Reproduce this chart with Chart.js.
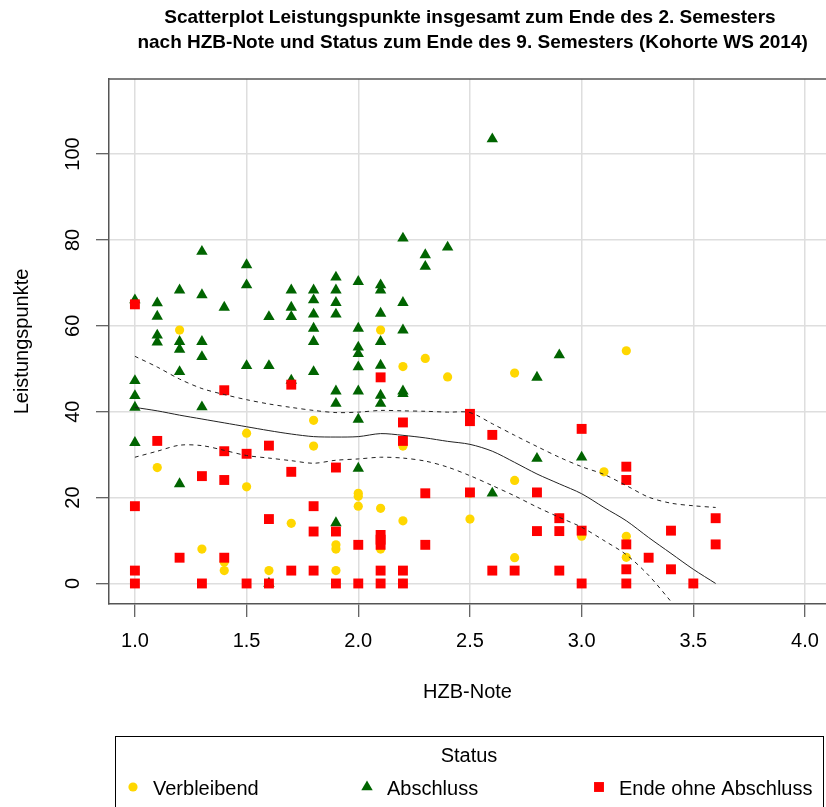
<!DOCTYPE html>
<html>
<head>
<meta charset="utf-8">
<script src="https://cdn.jsdelivr.net/npm/chart.js@4"></script>
<style>
  body { margin: 0; background: #fff; }
  #plot { display: block; }
</style>
</head>
<body>
<canvas id="plot" width="826" height="807"></canvas>
<script>
// Titel und Achsen
const titel = [
    'Scatterplot Leistungspunkte insgesamt zum Ende des 2. Semesters',
    ' nach HZB-Note und Status zum Ende des 9. Semesters (Kohorte WS 2014)'
];
const xTitel = 'HZB-Note';
const yTitel = 'Leistungspunkte';
const legendeTitel = 'Status';
const kategorien = ['Verbleibend', 'Abschluss', 'Ende ohne Abschluss'];

// Verbleibend (gelbe Punkte)
const verbleibendX = [1.1, 1.2, 1.3, 1.4, 1.4, 1.5, 1.5, 1.6, 1.7, 1.8, 1.8, 1.9, 1.9, 1.9, 2.0, 2.0, 2.0, 2.1, 2.1, 2.1,
    2.2, 2.2, 2.2, 2.2, 2.3, 2.4, 2.5, 2.5, 2.7, 2.7, 2.7, 2.9, 3.0, 3.1, 3.2, 3.2, 3.2];
const verbleibendY = [27, 59, 8, 5, 3, 35, 22.5, 3, 14, 38, 32, 9, 8, 3, 21, 20.3, 18, 59, 17.5, 8,
    50.5, 32, 14.6, 0, 52.4, 48.1, 21, 15, 49, 24, 6, 15.2, 11, 26, 54.2, 11, 6.1];

// Abschluss (gruene Dreiecke)
const abschlussX = [
    1.0, 1.0, 1.0, 1.0, 1.0,
    1.1, 1.1, 1.1, 1.1,
    1.2, 1.2, 1.2, 1.2, 1.2,
    1.3, 1.3, 1.3, 1.3, 1.3,
    1.4,
    1.5, 1.5, 1.5,
    1.6, 1.6, 1.6,
    1.7, 1.7, 1.7, 1.7,
    1.8, 1.8, 1.8, 1.8, 1.8, 1.8,
    1.9, 1.9, 1.9, 1.9, 1.9, 1.9, 1.9,
    2.0, 2.0, 2.0, 2.0, 2.0, 2.0, 2.0, 2.0,
    2.1, 2.1, 2.1, 2.1, 2.1, 2.1, 2.1,
    2.2, 2.2, 2.2, 2.2, 2.2,
    2.3, 2.3,
    2.4,
    2.6, 2.6,
    2.8, 2.8,
    2.9,
    3.0
];
const abschlussY = [
    66, 47.2, 43.7, 41, 32.8,
    65.3, 62.2, 57.8, 56.2,
    68.3, 56.3, 54.5, 49.3, 23.2,
    77.3, 67.2, 56.3, 52.8, 41.1,
    64.3,
    74.2, 69.5, 50.7,
    62.1, 50.7, 0,
    68.3, 64.3, 62.1, 47.3,
    68.3, 66, 62.7, 59.4, 56.3, 49.3,
    71.3, 68.3, 65.4, 62.7, 44.8, 41.9, 14.1,
    70.3, 59.4, 55, 53.5, 50.4, 44.8, 38.2, 26.8,
    69.5, 68.3, 62.9, 56.3, 50.8, 43.8, 41.9,
    80.4, 65.4, 59, 44.8, 44.2,
    76.5, 73.8,
    78.3,
    103.5, 21,
    48, 29.1,
    53.2,
    29.4
];

// Ende ohne Abschluss (rote Quadrate)
const endeX = [
    1.0, 1.0, 1.0, 1.0,
    1.1,
    1.2,
    1.3, 1.3,
    1.4, 1.4, 1.4, 1.4,
    1.5, 1.5,
    1.6, 1.6, 1.6,
    1.7, 1.7, 1.7,
    1.8, 1.8, 1.8,
    1.9, 1.9, 1.9,
    2.0, 2.0,
    2.1, 2.1, 2.1, 2.1, 2.1, 2.1,
    2.2, 2.2, 2.2, 2.2,
    2.3, 2.3,
    2.5, 2.5, 2.5,
    2.6, 2.6,
    2.7,
    2.8, 2.8,
    2.9, 2.9, 2.9,
    3.0, 3.0, 3.0,
    3.2, 3.2, 3.2, 3.2, 3.2,
    3.3,
    3.4, 3.4,
    3.5,
    3.6, 3.6
];
const endeY = [
    65, 18, 3, 0,
    33.2,
    6,
    25, 0,
    45, 30.8, 24.1, 6,
    30.2, 0,
    32.1, 15, 0,
    46.3, 26, 3,
    18, 12.1, 3,
    27, 12.1, 0,
    9, 0,
    48, 11.3, 10.2, 9, 3, 0,
    37.5, 33.2, 3, 0,
    21, 9,
    39.5, 37.8, 21.2,
    34.6, 3,
    3,
    21.2, 12.2,
    15.2, 12.2, 3,
    36, 12.3, 0,
    27.2, 24.1, 9.1, 3.3, 0,
    6,
    12.3, 3.3,
    0,
    15.2, 9.1
];

// Glaettung (Loess) mit Konfidenzband
const loessX = [1.0, 1.1, 1.2, 1.3, 1.4, 1.5, 1.6, 1.7, 1.8, 1.9, 2.0, 2.1, 2.2, 2.3, 2.4, 2.5, 2.6, 2.7, 2.8, 2.9,
    3.0, 3.1, 3.2, 3.3, 3.4, 3.5, 3.6];
const loessFit = [41, 40.2, 39.2, 38.3, 37.4, 36.5, 35.6, 34.8, 34.2, 34.1, 34.2, 34.9, 34.5, 33.9, 33.1, 32.4, 30.8, 28.2,
    25.5, 23.2, 20.9, 17.7, 14.6, 10.7, 7.0, 3.3, 0];
const loessOben = [52.9, 50.4, 47.6, 45.4, 44, 42.8, 41.8, 41, 40.3, 39.8, 39.9, 40.3, 40.2, 40.1, 39.9, 39.8, 37.2, 34.5,
    31.9, 29.4, 27.2, 25.4, 22.8, 20.1, 18.7, 18.1, 17.7];
const loessUnten = [29.4, 30.8, 32.2, 32.1, 31.0, 29.8, 29.2, 28.6, 28.0, 28.7, 29.0, 29.4, 29.2, 28.5, 27.1, 25.1, 22.8,
    20.4, 17.8, 15.4, 13.1, 10.0, 6.7, 1.9, -4.2, null, null];

const farben = ['#FFD700', '#006400', '#FF0000'];
const schrift = '"Liberation Sans", Arial, sans-serif';

const punkte = (xs, ys) => xs.map((x, i) => ({x: x, y: ys[i]}));

Chart.defaults.font.family = schrift;
Chart.defaults.color = '#000';

// Titel, obere Rahmenlinie und Legende selbst zeichnen
const rahmenPlugin = {
    id: 'rahmen',
    afterDraw(chart) {
        const {ctx, chartArea} = chart;
        const xs = chart.scales.x;
        ctx.save();
        ctx.strokeStyle = '#555';
        ctx.lineWidth = 1.5;
        ctx.beginPath();
        ctx.moveTo(chartArea.left, chartArea.top);
        ctx.lineTo(chartArea.right, chartArea.top);
        ctx.stroke();

        ctx.fillStyle = '#000';
        ctx.font = 'bold 19px ' + schrift;
        ctx.textAlign = 'center';
        ctx.textBaseline = 'middle';
        const mitte = xs.getPixelForValue(2.5);
        ctx.fillText(titel[0], mitte, 18);
        ctx.fillText(titel[1], mitte, 43);

        // Legende
        ctx.strokeStyle = '#000';
        ctx.lineWidth = 1;
        ctx.strokeRect(115.5, 736.5, 708, 100);
        ctx.font = '20px ' + schrift;
        ctx.fillText(legendeTitel, 469, 756);
        const markerX = [133, 367, 599];
        const ly = 789;
        ctx.textAlign = 'left';
        chart.data.datasets.slice(0, 3).forEach((ds, i) => {
            ctx.fillStyle = ds.backgroundColor;
            const mx = markerX[i];
            ctx.beginPath();
            if (ds.pointStyle === 'circle') {
                ctx.arc(mx, ly - 2, ds.pointRadius, 0, Math.PI * 2);
            } else if (ds.pointStyle === 'triangle') {
                const r = ds.pointRadius;
                ctx.moveTo(mx, ly - 2 - r);
                ctx.lineTo(mx + r * 0.866, ly - 2 + r / 2);
                ctx.lineTo(mx - r * 0.866, ly - 2 + r / 2);
                ctx.closePath();
            } else {
                const s = ds.pointRadius * Math.SQRT1_2;
                ctx.rect(mx - s, ly - 2 - s, 2 * s, 2 * s);
            }
            ctx.fill();
            ctx.fillStyle = '#000';
            ctx.fillText(kategorien[i], mx + 20, ly);
        });
        ctx.restore();
    }
};

const linie = (werte, gestrichelt) => ({
    type: 'line',
    data: punkte(loessX, werte),
    borderColor: '#222',
    borderWidth: 1,
    borderDash: gestrichelt ? [4, 4] : [],
    pointRadius: 0,
    tension: 0.3,
    fill: false,
    spanGaps: false,
    order: 0
});

const grafico = new Chart(document.getElementById('plot').getContext('2d'), {
    type: 'scatter',
    data: {
        datasets: [
            {
                label: kategorien[0],
                data: punkte(verbleibendX, verbleibendY),
                backgroundColor: farben[0],
                borderColor: farben[0],
                borderWidth: 0,
                pointStyle: 'circle',
                pointRadius: 4.6,
                order: 3
            },
            {
                label: kategorien[1],
                data: punkte(abschlussX, abschlussY),
                backgroundColor: farben[1],
                borderColor: farben[1],
                borderWidth: 0,
                pointStyle: 'triangle',
                pointRadius: 6.6,
                order: 2
            },
            {
                label: kategorien[2],
                data: punkte(endeX, endeY),
                backgroundColor: farben[2],
                borderColor: farben[2],
                borderWidth: 0,
                pointStyle: 'rect',
                pointRadius: 7,
                order: 1
            },
            linie(loessFit, false),
            linie(loessOben, true),
            linie(loessUnten, true)
        ]
    },
    options: {
        responsive: false,
        animation: false,
        devicePixelRatio: 1,
        events: [],
        layout: {autoPadding: false, padding: {top: 79, left: 0, right: 0, bottom: 83}},
        plugins: {
            legend: {display: false},
            tooltip: {enabled: false}
        },
        scales: {
            x: {
                type: 'linear',
                position: 'bottom',
                min: 0.884,
                max: 4.094,
                afterFit: (scale) => { scale.height = 120; },
                ticks: {
                    stepSize: 0.5,
                    includeBounds: false,
                    autoSkip: false,
                    maxRotation: 0,
                    padding: 0,
                    font: {size: 20, lineHeight: 2.45},
                    color: '#000',
                    callback: (v) => v.toFixed(1)
                },
                grid: {color: '#dedede', lineWidth: 1.5, tickColor: '#333', tickLength: 13, tickWidth: 1},
                border: {display: true, color: '#555', width: 1.5},
                title: {display: true, text: xTitel, font: {size: 20}, color: '#000', padding: {top: 0, bottom: 20}}
            },
            y: {
                type: 'linear',
                min: -4.78,
                max: 117.48,
                afterFit: (scale) => { scale.width = 109; },
                ticks: {
                    stepSize: 20,
                    includeBounds: false,
                    minRotation: 90,
                    maxRotation: 90,
                    crossAlign: 'center',
                    padding: 6,
                    font: {size: 20},
                    color: '#000',
                    callback: (v) => String(v)
                },
                grid: {color: '#dedede', lineWidth: 1.5, tickColor: '#333', tickLength: 13, tickWidth: 1},
                border: {display: true, color: '#555', width: 1.5},
                title: {display: true, text: yTitel, font: {size: 20}, color: '#000', padding: {top: 10.7, bottom: 0}}
            }
        }
    },
    plugins: [rahmenPlugin]
});
</script>
</body>
</html>
